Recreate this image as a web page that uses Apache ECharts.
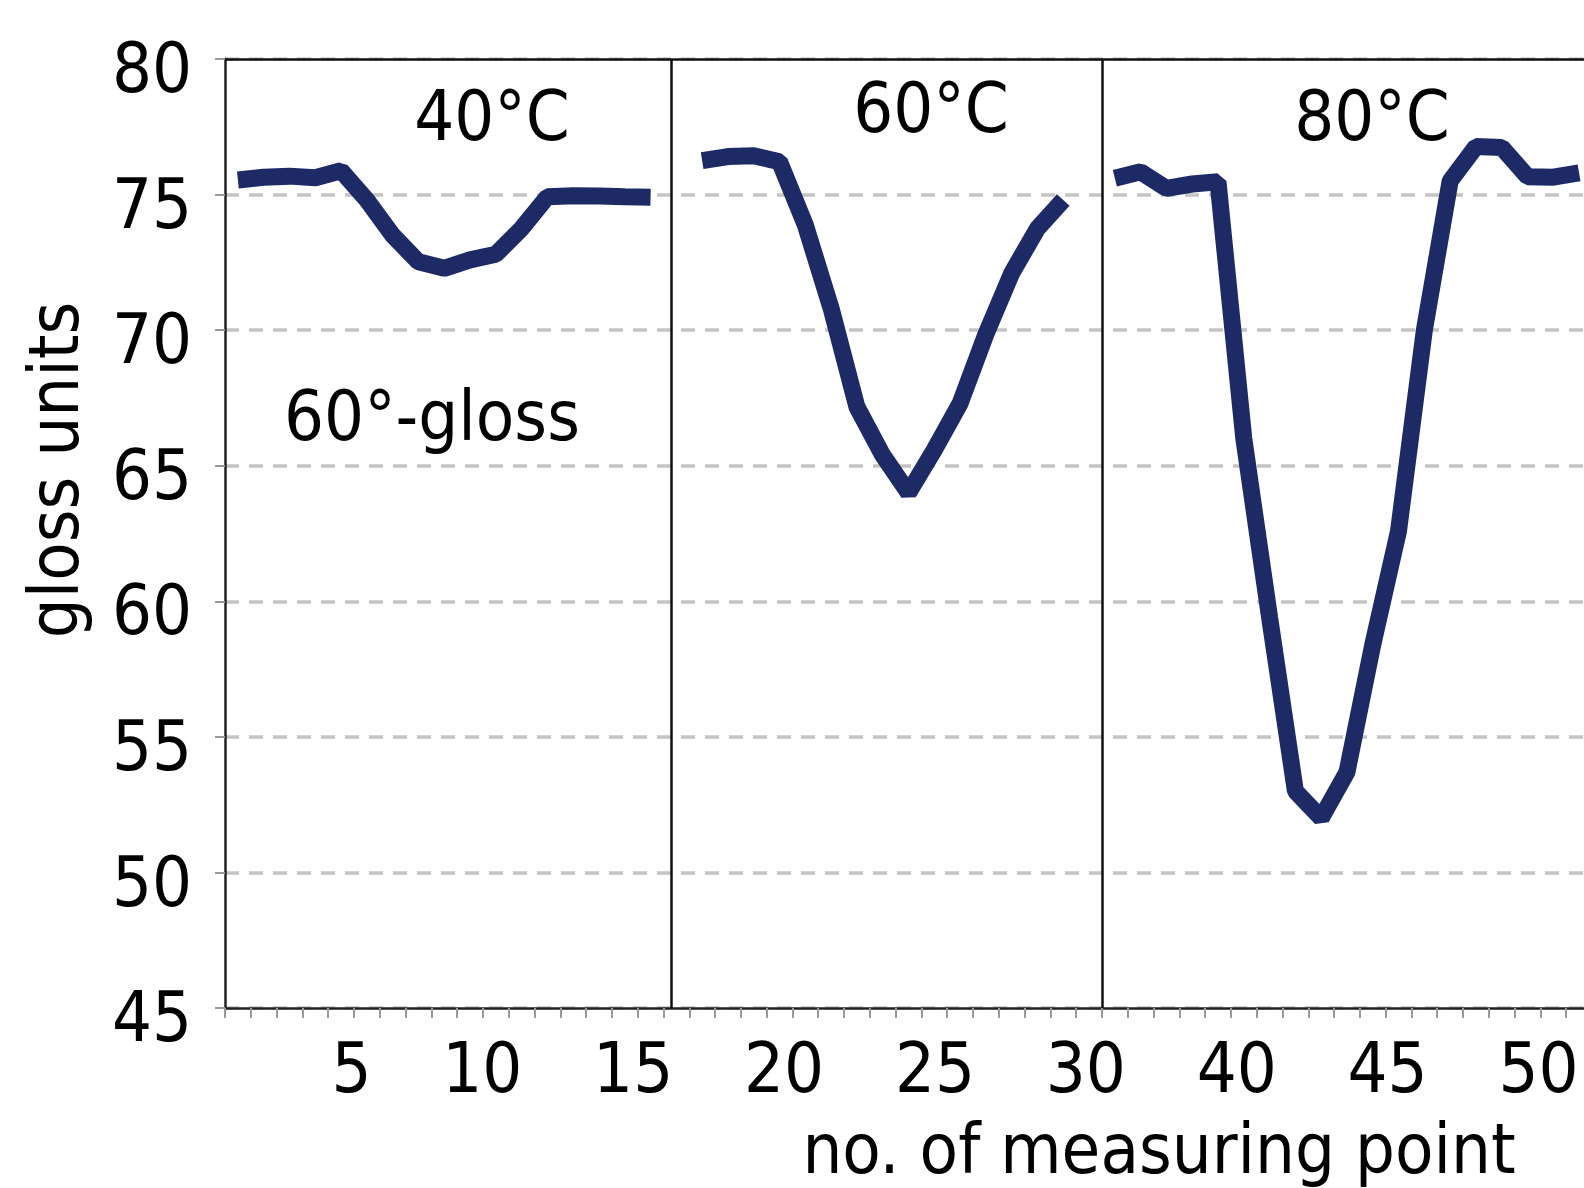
<!DOCTYPE html>
<html>
<head>
<meta charset="utf-8">
<script src="https://cdn.jsdelivr.net/npm/echarts@6/dist/echarts.min.js"></script>
<style>
  html, body { margin: 0; padding: 0; background: #fff; overflow: hidden; }
  #chart { width: 1700px; height: 1188px; }
</style>
</head>
<body>
<div id="chart"></div>
<script>
// measuring-point slots along the category axis (one per minor tick band)
var measuringPoints = ['1','2','3','4','5','6','7','8','9','10','11','12','13','14','15','16','17','18','19','20',
  '21','22','23','24','25','26','27','28','29','30','31','32','33','34','35','36','37','38','39','40',
  '41','42','43','44','45','46','47','48','49','50','51','52','53'];

// 60°-gloss values per temperature block
var gloss40 = [75.54, 75.64, 75.68, 75.62, 75.88, 74.8, 73.5, 72.52, 72.28, 72.59, 72.8, 73.75, 74.92, 74.96, 74.95, 74.92, 74.9];
var gloss60 = [76.25, 76.4, 76.43, 76.21, 73.88, 70.8, 67.17, 65.39, 64.0, 65.58, 67.3, 69.85, 72.1, 73.75, 74.8];
var gloss80 = [75.6, 75.84, 75.23, 75.39, 75.47, 66.0, 59.4, 53.0, 52.0, 53.7, 58.4, 62.6, 70.0, 75.5, 76.77, 76.74, 75.66, 75.64, 75.8];

// tick labels of the axes
var xTickLabels = ['5', '10', '15', '20', '25', '30', '40', '45', '50'];
var yMin = 45, yMax = 80, yStep = 5;

// block separators (in slot units)
var blockDividers = [16.8, 33.5];

var blockTitles = ['40°C', '60°C', '80°C'];

var FONT = "'DejaVu Sans Condensed', 'DejaVu Sans', sans-serif";
var LINE_COLOR = '#1e2a66';

var glossAll = [].concat(gloss40, [null], gloss60, [null], gloss80);

var chart = echarts.init(document.getElementById('chart'), null, { renderer: 'canvas' });

var option = {
  animation: false,
  backgroundColor: '#ffffff',
  grid: [
    { left: 225, right: 108, top: 59, bottom: 180, show: false },
    { left: 296, right: 46, top: 59, bottom: 180, show: false },
    { left: 225, right: 108, top: 74, bottom: 165, show: false }
  ],
  xAxis: [
    {
      type: 'category', gridIndex: 0, data: measuringPoints, boundaryGap: true,
      axisLine: { show: true, onZero: false, lineStyle: { color: '#222', width: 2.5 } },
      axisTick: { show: true, interval: 0, length: 10, lineStyle: { color: '#999', width: 2 } },
      axisLabel: { show: false },
      splitLine: { show: false }
    },
    {
      type: 'category', gridIndex: 1, data: xTickLabels, boundaryGap: true,
      axisLine: { show: false }, axisTick: { show: false }, splitLine: { show: false },
      axisLabel: { show: true, interval: 0, align: 'right', fontSize: 70, fontFamily: FONT, color: '#000', margin: 31 }
    },
    { type: 'value', gridIndex: 0, min: -0.5, max: 52.5, show: false },
    { type: 'value', gridIndex: 2, min: 0, max: 1, show: false }
  ],
  yAxis: [
    {
      type: 'value', gridIndex: 0, min: yMin, max: yMax, interval: yStep,
      axisLine: { show: true, onZero: false, lineStyle: { color: '#222', width: 2.5 } },
      axisTick: { show: true, length: 10, lineStyle: { color: '#999', width: 2 } },
      axisLabel: { show: false },
      splitLine: { show: true, lineStyle: { color: '#c4c4c4', width: 3.5, type: [14, 10] } }
    },
    { type: 'value', gridIndex: 1, show: false, min: 0, max: 1 },
    {
      type: 'value', gridIndex: 2, min: yMin, max: yMax, interval: yStep,
      axisLine: { show: false, onZero: false }, axisTick: { show: false }, splitLine: { show: false },
      axisLabel: { show: true, fontSize: 70, fontFamily: FONT, color: '#000', margin: 33 }
    }
  ],
  series: [
    {
      type: 'line', xAxisIndex: 0, yAxisIndex: 0,
      data: glossAll, connectNulls: false, showSymbol: false, symbol: 'none',
      lineStyle: { color: LINE_COLOR, width: 17, cap: 'butt', join: 'bevel' },
      z: 5
    },
    {
      type: 'line', xAxisIndex: 2, yAxisIndex: 0, data: [],
      markLine: {
        silent: true, symbol: 'none', label: { show: false },
        lineStyle: { color: '#111', width: 2.5, type: 'solid' },
        data: blockDividers.map(function (v) { return { xAxis: v }; }).concat([{ yAxis: yMax }])
      },
      z: 4
    }
  ],
  graphic: [
    { type: 'text', x: 492, y: 122, style: { text: blockTitles[0], font: '70px ' + FONT, fill: '#000', textAlign: 'center', textVerticalAlign: 'middle' } },
    { type: 'text', x: 931, y: 114, style: { text: blockTitles[1], font: '70px ' + FONT, fill: '#000', textAlign: 'center', textVerticalAlign: 'middle' } },
    { type: 'text', x: 1372, y: 122, style: { text: blockTitles[2], font: '70px ' + FONT, fill: '#000', textAlign: 'center', textVerticalAlign: 'middle' } },
    { type: 'text', x: 432, y: 422, style: { text: '60°-gloss', font: '70px ' + FONT, fill: '#000', textAlign: 'center', textVerticalAlign: 'middle' } },
    { type: 'text', x: 60, y: 470, rotation: Math.PI / 2, style: { text: 'gloss units', font: '70px ' + FONT, fill: '#000', textAlign: 'center', textVerticalAlign: 'middle' } },
    { type: 'text', x: 1159, y: 1155, style: { text: 'no. of measuring point', font: '70px ' + FONT, fill: '#000', textAlign: 'center', textVerticalAlign: 'middle' } }
  ]
};

chart.setOption(option);
</script>
</body>
</html>
